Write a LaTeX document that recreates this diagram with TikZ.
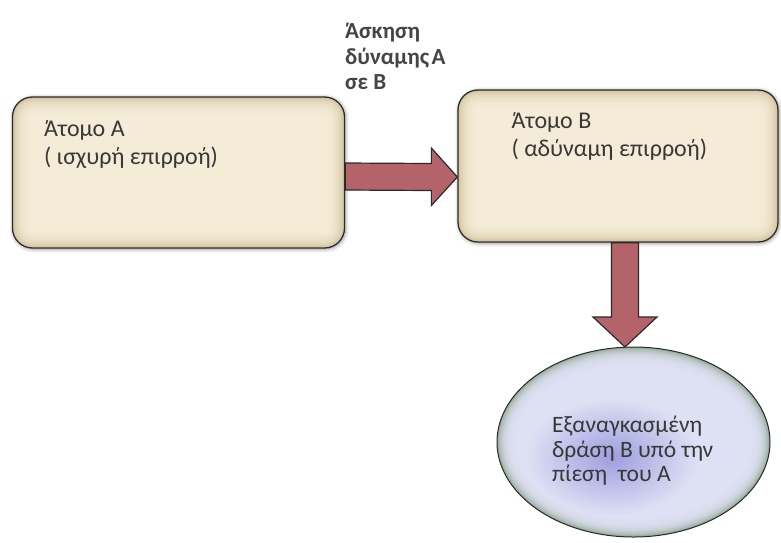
\documentclass[tikz,border=0pt]{standalone}
\usepackage{fontspec}
\setmainfont{Carlito}
\usetikzlibrary{calc,shadows.blur,fadings}
\definecolor{boxin}{HTML}{F8F0DC}
\definecolor{boxout}{HTML}{CDBD97}
\definecolor{arrowfill}{HTML}{B5636A}
\definecolor{edgecol}{HTML}{2A2A2A}
\definecolor{ellin}{HTML}{8E8EDA}
\definecolor{ellmid}{HTML}{E2E4F9}
\definecolor{ellout}{HTML}{98AC9A}
\definecolor{labelgray}{HTML}{454545}
\definecolor{textgray}{HTML}{383838}
\tikzfading[name=blobfade, inner color=transparent!0, outer color=transparent!100]
\tikzset{
  roundbox/.style={draw=edgecol, line width=1.3pt, rounded corners=20pt, fill=boxout,
    blur shadow={shadow xshift=1pt, shadow yshift=-1pt, shadow blur radius=4pt, shadow opacity=45}},
  boxtext/.style={anchor=north west, align=left, text=textgray, font=\fontsize{24}{28.5}\selectfont, inner sep=0pt},
  elltext/.style={anchor=north west, align=left, text=textgray, font=\fontsize{23.5}{24.5}\selectfont, inner sep=0pt},
  toplabel/.style={anchor=north west, align=left, text=labelgray, font=\bfseries\fontsize{23}{25.5}\selectfont, inner sep=0pt},
  bigarrow/.style={draw=edgecol, line width=1.2pt, fill=arrowfill, line join=miter}
}
\newcommand{\innerglow}[1]{%
  \foreach \i in {1,...,14}{%
    \fill[boxin, opacity=0.2, rounded corners={20pt-\i*1.2pt}]
      ($(#1.south west)+(\i*1.4,-\i*1.4)$) rectangle ($(#1.north east)+(-\i*1.4,\i*1.4)$);}%
}
\begin{document}
\begin{tikzpicture}[x=1pt,y=-1pt]
\useasboundingbox (0,0) rectangle (781,542);
% boxes
\node[roundbox, minimum width=332pt, minimum height=151pt] (A) at (178.5,172.5) {};
\innerglow{A}
\node[roundbox, minimum width=320pt, minimum height=152pt] (B) at (618,166) {};
\innerglow{B}
% ellipse
\coordinate (Ec) at (633.5,442);
\fill[ellout] (Ec) ellipse [x radius=136.5, y radius=95];
\foreach \i in {1,...,12}{
  \fill[ellmid, opacity=0.25] (Ec) ellipse [x radius={136.5-\i*1.5}, y radius={95-\i*1.5}];}
\fill[ellin, path fading=blobfade, opacity=0.8] (612,457) ellipse [x radius=85, y radius=58];
\draw[edgecol, line width=1pt] (Ec) ellipse [x radius=136.5, y radius=95];
\coordinate (E) at (633.5,347);
% texts
\node[boxtext] (At) at ($(A.north west)+(32,24)$) {Άτομο Α\\( ισχυρή επιρροή)};
\node[boxtext] (Bt) at ($(B.north west)+(54,23)$) {Άτομο Β\\( αδύναμη επιρροή)};
\node[elltext] (Et) at (552,416) {Εξαναγκασμένη\\δράση Β υπό την\\πίεση\ \ του Α};
\node[toplabel] (L) at (345,23) {Άσκηση\\δύναμης\hspace{0.1em}Α\\σε Β};
% right arrow
\coordinate (a1) at ($(A.east)+(0,4)$);
\coordinate (a2) at ($(A.east -| B.west)+(0,4.5)$);
\draw[bigarrow] ($(a1)+(0,-13.5)$) -- ($(a2)+(-26,-13.5)$) -- ($(a2)+(-26,-29)$) -- (a2)
  -- ($(a2)+(-26,28.5)$) -- ($(a2)+(-26,13.5)$) -- ($(a1)+(0,13.5)$) -- cycle;
% down arrow
\coordinate (b1) at ($(B.south)+(7,0)$);
\coordinate (b2) at (b1 |- E);
\draw[bigarrow] ($(b1)+(-13.5,0)$) -- ($(b2)+(-13.5,-30)$) -- ($(b2)+(-32,-30)$) -- (b2)
  -- ($(b2)+(32,-30)$) -- ($(b2)+(13.5,-30)$) -- ($(b1)+(13.5,0)$) -- cycle;
\end{tikzpicture}
\end{document}
